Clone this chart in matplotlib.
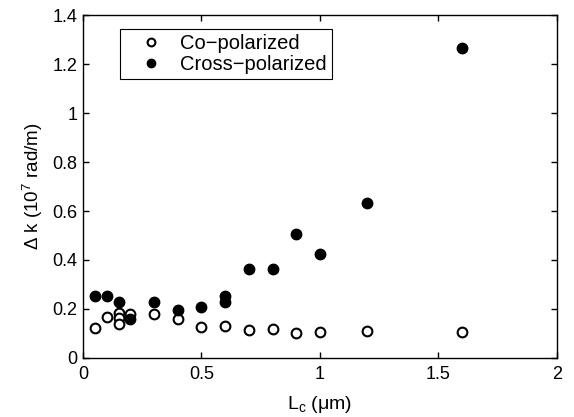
import matplotlib
matplotlib.use("Agg")
import matplotlib.pyplot as plt

plt.rcParams['font.family'] = ['Liberation Sans', 'DejaVu Sans']
plt.rcParams['mathtext.default'] = 'regular'

co_x = [0.05, 0.1, 0.15, 0.15, 0.15, 0.2, 0.3, 0.4, 0.5, 0.6, 0.7, 0.8, 0.9, 1.0, 1.2, 1.6]
co_y = [0.121, 0.166, 0.185, 0.165, 0.14, 0.18, 0.18, 0.158, 0.125, 0.132, 0.115, 0.12, 0.103, 0.107, 0.11, 0.105]

cross_x = [0.05, 0.1, 0.15, 0.2, 0.3, 0.4, 0.5, 0.6, 0.6, 0.7, 0.8, 0.9, 1.0, 1.2, 1.6]
cross_y = [0.253, 0.253, 0.23, 0.158, 0.23, 0.196, 0.21, 0.255, 0.23, 0.362, 0.362, 0.506, 0.423, 0.632, 1.265]

xticks = [0, 0.5, 1, 1.5, 2]
xtick_labels = ['0', '0.5', '1', '1.5', '2']
yticks = [0, 0.2, 0.4, 0.6, 0.8, 1.0, 1.2, 1.4]
ytick_labels = ['0', '0.2', '0.4', '0.6', '0.8', '1', '1.2', '1.4']

fig = plt.figure(figsize=(5.74, 4.17), dpi=100)
ax = fig.add_axes([0.1446, 0.1415, 0.8254, 0.8225])

ax.plot(co_x, co_y, 'o', markerfacecolor='white', markeredgecolor='black',
        markersize=7, markeredgewidth=1.5, linestyle='none', label='Co\u2212polarized')
ax.plot(cross_x, cross_y, 'o', color='black', markersize=7.5,
        linestyle='none', label='Cross\u2212polarized')

ax.set_xlim(0, 2)
ax.set_ylim(0, 1.4)
ax.set_xticks(xticks)
ax.set_xticklabels(xtick_labels)
ax.set_yticks(yticks)
ax.set_yticklabels(ytick_labels)
ax.tick_params(direction='in', top=True, right=True, length=4, width=1, labelsize=13)
ax.tick_params(axis='x', pad=6)
ax.tick_params(axis='y', pad=4)
for s in ax.spines.values():
    s.set_linewidth(1)

ax.set_xlabel('L$_c$ (\u03bcm)', fontsize=14, labelpad=8)
ax.set_ylabel('\u0394 k (10$^7$ rad/m)', fontsize=13.5, labelpad=5)

leg = ax.legend(loc='upper left', bbox_to_anchor=((120 - 83) / 474, (358 - 29) / 343),
                fontsize=14.5, frameon=True, fancybox=False, edgecolor='black',
                framealpha=1, handletextpad=0.15, borderpad=0.25, labelspacing=0.1,
                handlelength=2.6, markerscale=0.8, borderaxespad=0)
leg.get_frame().set_linewidth(0.8)

fig.savefig('out.png', dpi=100)
